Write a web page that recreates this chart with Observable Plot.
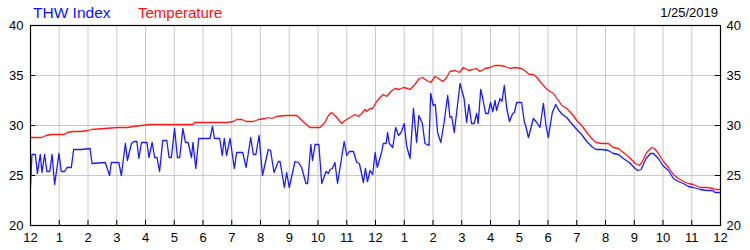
<!DOCTYPE html>
<html>
<head>
<meta charset="utf-8">
<script src="https://cdn.jsdelivr.net/npm/d3@7"></script>
<script src="https://cdn.jsdelivr.net/npm/@observablehq/plot@0.6"></script>
<style>
  html, body { margin: 0; padding: 0; background: #fff; }
  #wrap { position: relative; width: 750px; height: 250px; font-family: "Liberation Sans", Arial, sans-serif; }
  .lbl { position: absolute; white-space: nowrap; }
  #chart { position: absolute; left: 0; top: 0; }
</style>
</head>
<body>
<div id="wrap">
  <div id="chart"></div>
  <span class="lbl" style="left:33px; top:5px; font-size:15.5px; line-height:15px; color:#1010ff;">THW Index</span>
  <span class="lbl" style="left:138px; top:5px; font-size:15px; line-height:15px; color:#ff1010;">Temperature</span>
  <span class="lbl" style="right:32px; top:6px; font-size:13px; line-height:13px; color:#000;">1/25/2019</span>
</div>
<script>
// Hours since midnight, 0..24
const hourTicks = d3.range(0, 25);
const hourLabels = ["12","1","2","3","4","5","6","7","8","9","10","11","12","1","2","3","4","5","6","7","8","9","10","11","12"];
const yTicks = [20, 25, 30, 35, 40];
const yGrid = [25, 30, 35];

// THW Index series (hour, value)
const thwHours = [0.0,0.05,0.17,0.24,0.34,0.40,0.49,0.57,0.67,0.75,0.84,0.99,1.07,1.19,1.27,1.42,1.50,1.77,2.07,2.14,2.60,2.75,2.81,3.07,3.16,3.30,3.37,3.51,3.60,3.70,3.77,3.86,4.05,4.12,4.23,4.32,4.40,4.49,4.60,4.74,4.82,4.90,5.01,5.11,5.19,5.30,5.39,5.48,5.60,5.65,5.75,5.85,6.24,6.33,6.40,6.58,6.67,6.74,6.82,6.94,7.09,7.17,7.38,7.50,7.66,7.75,7.84,7.95,8.07,8.27,8.35,8.47,8.62,8.68,8.83,8.91,9.00,9.20,9.32,9.43,9.58,9.64,9.75,9.81,9.90,10.03,10.13,10.28,10.36,10.42,10.50,10.59,10.68,10.91,11.00,11.09,11.23,11.35,11.44,11.58,11.65,11.72,11.81,11.90,11.99,12.06,12.21,12.27,12.37,12.42,12.48,12.60,12.70,12.80,12.89,13.00,13.08,13.20,13.32,13.43,13.51,13.63,13.72,13.86,13.92,14.01,14.08,14.16,14.27,14.38,14.51,14.59,14.65,14.74,14.94,15.08,15.17,15.25,15.34,15.43,15.52,15.57,15.66,15.73,15.83,15.92,16.00,16.08,16.16,16.21,16.33,16.40,16.48,16.56,16.66,16.77,16.83,16.91,17.08,17.18,17.22,17.32,17.49,17.61,17.72,17.84,17.93,18.01,18.15,18.27,18.38,18.50,18.65,18.82,19.00,19.17,19.35,19.52,19.67,19.87,20.10,20.27,20.45,20.62,20.83,21.03,21.12,21.24,21.41,21.57,21.67,21.84,21.99,22.19,22.36,22.53,22.71,22.88,23.05,23.29,23.52,23.73,23.81,24.00];
const thwValues = [23.8,27.1,27.1,25.2,27.1,25.3,27.1,25.4,25.4,27.1,24.1,27.2,25.4,25.4,25.8,25.8,27.6,27.6,27.7,26.2,26.3,25.0,26.3,26.3,25.0,28.2,26.5,28.2,28.4,28.4,26.7,28.3,28.3,26.8,28.3,26.8,26.8,25.4,28.5,28.5,26.8,26.8,29.7,26.8,26.8,29.7,28.3,28.3,26.8,28.3,25.7,28.7,28.7,29.9,28.7,28.7,27.0,28.7,27.0,28.7,25.7,27.3,27.3,25.8,28.8,27.1,27.1,29.0,25.0,27.6,27.5,25.3,26.4,26.4,23.8,25.3,23.8,26.4,26.3,25.8,24.2,24.2,28.1,26.5,28.1,28.1,24.2,25.4,25.2,25.6,25.7,26.3,24.2,28.4,27.0,27.4,27.4,26.3,26.2,24.3,25.7,24.4,25.5,25.1,27.3,25.8,27.3,28.2,28.2,29.3,28.2,27.8,29.8,29.0,29.3,30.2,28.0,26.7,31.7,28.3,31.0,30.2,28.2,28.0,33.2,32.0,32.1,29.3,28.3,30.2,33.0,30.8,30.9,29.3,34.2,32.7,30.3,32.1,30.2,30.2,31.2,30.2,33.6,32.7,31.2,31.2,32.3,31.4,32.5,31.5,32.7,32.4,34.0,31.8,30.4,31.2,31.3,32.3,32.3,30.3,30.0,28.8,30.7,30.3,29.8,32.2,30.0,28.8,31.3,32.1,31.5,31.1,30.8,30.2,29.6,29.1,28.4,27.9,27.6,27.6,27.5,27.2,27.1,26.7,26.3,25.7,25.5,25.6,26.7,27.2,27.2,26.7,26.0,25.5,24.7,24.4,24.2,23.9,23.8,23.6,23.5,23.5,23.3,23.3];

// Temperature series (hour, value)
const tempHours = [0.0,0.2,0.38,0.55,0.73,0.96,1.17,1.28,1.48,1.77,2.0,2.12,2.58,3.04,3.39,3.57,4.15,5.01,5.65,5.71,6.82,7.06,7.17,7.35,7.5,7.75,7.93,8.16,8.27,8.39,8.56,8.85,9.26,9.37,9.55,9.72,10.07,10.24,10.36,10.47,10.59,10.71,10.82,10.94,11.11,11.29,11.4,11.52,11.64,11.69,11.81,11.9,12.02,12.13,12.27,12.39,12.53,12.68,12.83,12.97,13.11,13.2,13.37,13.52,13.64,13.78,13.92,14.07,14.19,14.34,14.45,14.59,14.77,14.92,15.06,15.23,15.38,15.5,15.63,15.81,15.98,16.15,16.33,16.5,16.68,16.85,17.08,17.23,17.35,17.49,17.61,17.78,17.9,18.01,18.19,18.36,18.48,18.65,18.82,19.0,19.17,19.35,19.52,19.67,19.87,20.1,20.27,20.45,20.62,20.83,21.03,21.18,21.26,21.43,21.61,21.7,21.84,22.01,22.19,22.36,22.53,22.71,22.88,23.05,23.29,23.52,23.75,23.81,24.0];
const tempValues = [28.8,28.8,28.8,29.0,29.1,29.1,29.1,29.3,29.4,29.4,29.5,29.6,29.7,29.8,29.8,29.9,30.1,30.1,30.1,30.3,30.3,30.4,30.6,30.6,30.4,30.4,30.6,30.7,30.8,30.7,30.9,31.0,31.0,30.7,30.2,29.8,29.8,30.3,31.0,31.3,31.0,30.6,30.2,30.5,30.8,31.1,30.9,31.2,31.6,31.4,31.7,31.7,32.3,32.7,33.1,32.9,33.4,33.7,33.6,33.8,33.7,33.6,34.1,34.7,34.8,34.5,34.3,34.9,34.7,34.4,34.7,35.4,35.5,35.3,35.8,35.5,35.6,35.7,35.4,35.7,35.8,36.0,36.0,35.9,35.7,35.8,35.7,35.4,35.1,35.1,34.8,34.2,33.8,33.5,33.2,32.5,32.0,31.7,31.2,30.5,30.0,29.3,28.7,28.3,28.2,28.2,27.8,27.7,27.3,26.8,26.2,26.0,26.3,27.3,27.8,27.7,27.2,26.4,25.8,25.1,24.7,24.4,24.2,24.1,23.8,23.8,23.7,23.6,23.6];

const thw = thwHours.map((h, i) => ({h, v: thwValues[i]}));
const temp = tempHours.map((h, i) => ({h, v: tempValues[i]}));

const fmt = d => hourLabels[d];

const chart = Plot.plot({
  width: 750,
  height: 250,
  marginLeft: 30,
  marginRight: 30,
  marginTop: 25,
  marginBottom: 25,
  style: {fontFamily: "'Liberation Sans', Arial, sans-serif", fontSize: "13px", color: "#000", background: "#fff"},
  x: {domain: [0, 24], axis: null, label: null},
  y: {domain: [20, 40], axis: null, label: null},
  marks: [
    Plot.gridX(hourTicks.slice(1, -1), {stroke: "#c8c8c8", strokeOpacity: 1}),
    Plot.gridY(yGrid, {stroke: "#c8c8c8", strokeOpacity: 1}),
    Plot.ruleX(hourTicks, {y1: 20, y2: 20.5, stroke: "#000"}),
    Plot.ruleY(yGrid, {x1: 0, x2: 0.18, stroke: "#000"}),
    Plot.ruleY(yGrid, {x1: 23.82, x2: 24, stroke: "#000"}),
    Plot.line(temp, {x: "h", y: "v", stroke: "#ff1a1a", strokeWidth: 1.3}),
    Plot.line(thw, {x: "h", y: "v", stroke: "#1a1aff", strokeWidth: 1.3}),
    Plot.frame({stroke: "#000", strokeWidth: 1.2}),
    Plot.axisX(hourTicks, {anchor: "bottom", tickSize: 0, tickPadding: 7, tickFormat: fmt, fill: "#000", label: null}),
    Plot.axisY(yTicks, {anchor: "left", tickSize: 0, tickPadding: 7, fill: "#000", label: null}),
    Plot.axisY(yTicks, {anchor: "right", tickSize: 0, tickPadding: 6, fill: "#000", label: null})
  ]
});
document.getElementById("chart").appendChild(chart);
</script>
</body>
</html>
